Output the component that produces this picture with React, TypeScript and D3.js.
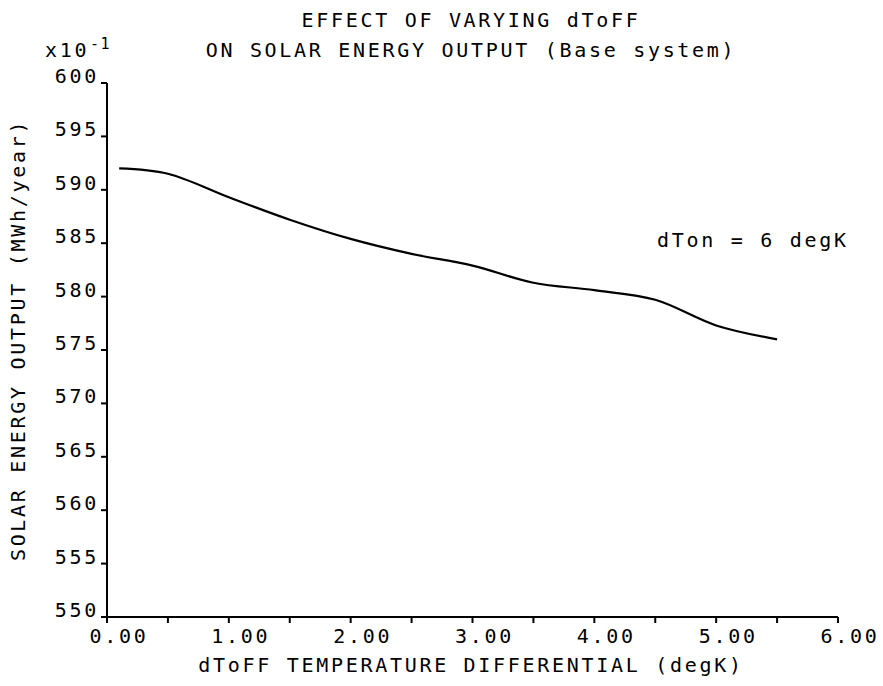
import * as d3 from 'd3';

// dToff (degK) vs solar energy output (x10^-1 MWh/year)
const dToff = [0.1, 0.5, 1.0, 1.5, 2.0, 2.5, 3.0, 3.5, 4.0, 4.5, 5.0, 5.5];
const energy = [592.0, 591.5, 589.3, 587.2, 585.4, 584.0, 582.9, 581.3, 580.6, 579.7, 577.3, 576.0];

const xTicks = [0, 1, 2, 3, 4, 5, 6];
const xMinorTicks = [0, 0.5, 1, 1.5, 2, 2.5, 3, 3.5, 4, 4.5, 5, 5.5, 6];
const yTicks = [550, 555, 560, 565, 570, 575, 580, 585, 590, 595, 600];

const titleLines = ['EFFECT OF VARYING dToFF', 'ON SOLAR ENERGY OUTPUT (Base system)'];
const xTitle = 'dToFF TEMPERATURE DIFFERENTIAL (degK)';
const yTitle = 'SOLAR ENERGY OUTPUT (MWh/year)';
const note = 'dTon = 6 degK';

const font = "'DejaVu Sans Mono', monospace";

function App() {
  const width = 883;
  const height = 686;

  const x = d3.scaleLinear().domain([0, 6]).range([107, 838]);
  const y = d3.scaleLinear().domain([550, 600]).range([617, 83]);

  const line = d3
    .line<number>()
    .x((d) => x(d))
    .y((_, i) => y(energy[i]))
    .curve(d3.curveCatmullRom.alpha(0.5));

  const textStyle = { fontFamily: font, fontSize: 20, letterSpacing: 2.7, fill: '#000' };

  return (
    <svg
      width={width}
      height={height}
      style={{ position: 'absolute', left: 0, top: 0, background: '#fff' }}
    >
      <rect width={width} height={height} fill="#fff" />

      {/* title */}
      {titleLines.map((t, i) => (
        <text key={t} x={471} y={27 + i * 30} textAnchor="middle" style={textStyle}>
          {t}
        </text>
      ))}

      {/* axis multiplier */}
      <text x={45} y={57} style={textStyle}>
        x10
      </text>
      <text x={90} y={49} style={{ ...textStyle, fontSize: 15, letterSpacing: 1.5 }}>
        -1
      </text>

      {/* axes */}
      <line x1={x(0)} x2={x(0)} y1={y(600)} y2={y(550)} stroke="#000" strokeWidth={2} />
      <line x1={x(0)} x2={x(6)} y1={y(550)} y2={y(550)} stroke="#000" strokeWidth={2} />

      {yTicks.map((v) => (
        <g key={v}>
          <line x1={x(0) - 6} x2={x(0)} y1={y(v)} y2={y(v)} stroke="#000" strokeWidth={2} />
          <text x={99} y={y(v)} textAnchor="end" style={textStyle}>
            {v}
          </text>
        </g>
      ))}

      {xMinorTicks.map((v) => (
        <line key={v} x1={x(v)} x2={x(v)} y1={y(550)} y2={y(550) + 6} stroke="#000" strokeWidth={2} />
      ))}
      {xTicks.map((v) => (
        <text key={v} x={x(v) + 12} y={643} textAnchor="middle" style={textStyle}>
          {d3.format('.2f')(v)}
        </text>
      ))}

      {/* axis titles */}
      <text x={471} y={672} textAnchor="middle" style={textStyle}>
        {xTitle}
      </text>
      <text
        transform={`translate(25, 340) rotate(-90)`}
        textAnchor="middle"
        style={textStyle}
      >
        {yTitle}
      </text>

      {/* curve */}
      <path d={line(dToff) ?? ''} fill="none" stroke="#000" strokeWidth={2.2} />

      <text x={657} y={247} style={textStyle}>
        {note}
      </text>
    </svg>
  );
}

export default App;
